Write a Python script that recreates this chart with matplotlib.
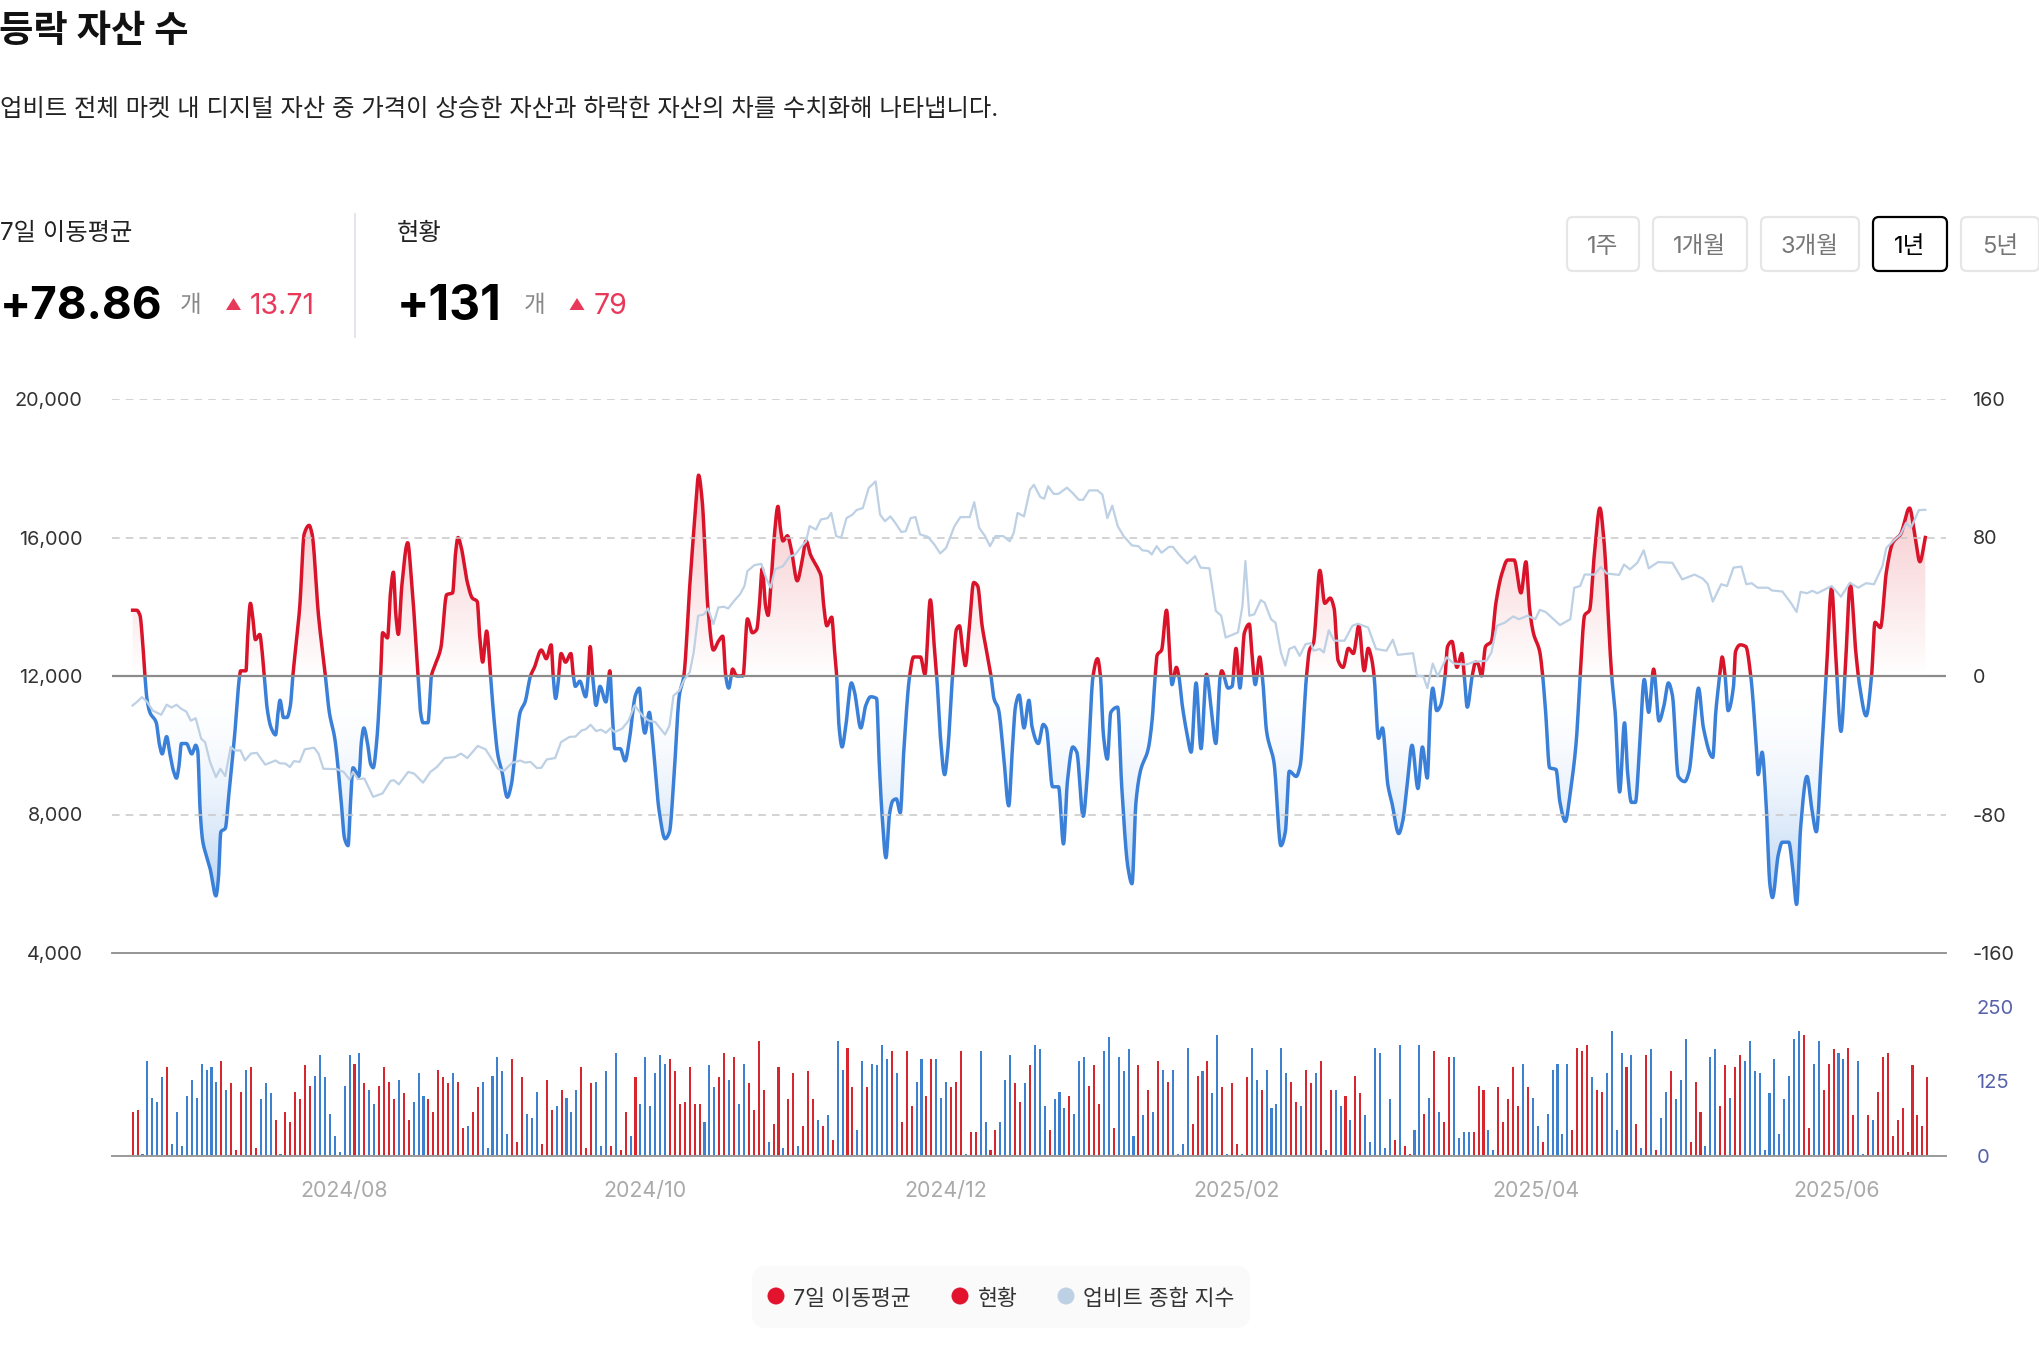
import numpy as np
import matplotlib
matplotlib.use("Agg")
import matplotlib.pyplot as plt
from matplotlib.patches import FancyBboxPatch, Rectangle, Circle, Polygon

plt.rcParams['font.family'] = ['Inter', 'Noto Sans CJK KR', 'DejaVu Sans']

# 7-day moving average, right axis (day index since the first date, count)
ma_days = [0,0.8,1.5,2,2.5,2.9,3.5,4.8,5.4,6,6.9,7.5,8.3,8.9,9.4,9.9,10.9,12,12.8,13.2,13.7,14.2,15.1,15.7,16.9,17.4,17.9,18.8,19.5,20.7,
    21.7,21.9,23,23.3,23.9,24.4,24.9,25.8,26.2,26.7,27.3,28.1,29,29.5,29.9,30.6,31.3,32,32.5,33.9,34.8,35.8,36.4,37.7,39.1,39.9,41,42.2,43,43.7,
    44.2,44.7,45.9,46.4,46.9,47.7,48.3,48.8,49.5,50.3,50.7,51.7,52.3,52.9,53.4,53.9,54.6,55.8,56.5,57.9,58.4,58.9,59.9,60.6,61.3,62.5,63.7,64.9,65.5,66,
    66.6,67.9,68.9,69.9,70.4,71,71.8,72.6,73.3,74.1,74.9,76,76.8,77.6,78.6,79.6,80.7,81.5,82.9,83.9,84.9,85.3,85.8,86.3,86.9,87.8,88.9,89.4,89.8,90.7,
    91.9,92.4,92.8,93.3,94,94.8,96,96.8,97.2,97.8,98.9,99.9,100.7,102,102.8,103.3,103.9,104.8,105.5,106.8,108,108.9,109.7,110.9,111.8,113,114.1,114.8,115.5,116.7,
    117.8,118.8,119.7,120.3,120.9,121.7,122.5,123.8,124.7,125.7,126.6,127.1,127.7,128.4,128.9,129.4,130.1,130.9,131.4,131.9,132.8,133.6,134.8,135.7,136.6,137.5,139,139.6,140.2,140.8,
    141.8,142.3,142.8,143.3,143.9,144.6,145.8,146.4,147.7,148.7,149.7,150.9,151.4,152,152.8,153.5,154.2,154.9,155.7,156.4,157.6,158.4,159.8,160.7,161.8,162.6,163.1,163.8,164.7,165.3,
    166.3,167.1,167.7,168.4,168.9,169.6,170.6,171.4,172.3,173.1,174.1,174.7,175.6,176.6,177.7,178.4,179.1,179.8,180.8,181.8,182.4,183.7,184.7,185.3,186.6,187.8,188.8,189.6,190.7,191.5,
    192.8,193.6,194.8,195.7,196.3,196.9,197.7,198.4,199.8,200.6,201.9,202.7,203.5,204.4,206,206.8,207.4,207.8,208.7,209.7,210.6,210.8,211.7,212.2,212.9,213.9,214.7,215.7,216.7,217.8,
    218.7,219.7,220.6,220.9,222.2,223,223.8,224.6,225.5,226.5,227,227.7,228.6,229.2,230,231.5,232.9,233.8,234.6,236,236.8,238.1,238.7,239.5,240.8,241.8,242.9,243.7,244.5,245.5,
    246.6,247.6,248.7,249.8,250.6,251.3,251.8,252.7,253.5,254.6,255.4,256.8,257.6,258.5,259.5,260.7,261.6,262.6,263.2,263.7,264.5,265.3,266.2,266.7,267.6,268.6,269.6,270.1,270.7,271.7,
    272.4,272.9,273.6,274.4,275.6,276.5,277.7,278.9,280.2,281.6,282.6,283.3,284.1,285.4,286,286.6,287.4,288.7,289.5,290.6,291.6,292.8,293.6,294.5,295.5,296.5,297.6,298.4,300,300.7,
    301.6,302.6,303.2,304,304.8,305.6,306.6,307.5,308.5,309.6,310.6,311.5,312.3,313.5,314.8,315.7,316.8,317.6,318.6,320.5,321.1,321.9,322.4,323,323.6,324.7,325.1,326.1,327.2,328.2,
    329.4,329.7,330.5,331.3,332.1,332.6,333.8,334.6,335.9,336.7,337.5,338.3,339.6,340.6,341.5,342.5,343.5,344.6,345.4,346.5,347.3,348.4,349.5,350.3,351.6,352.7,353.4,354.5,355.7,357,
    358.6,360.4,361.5,362.5,363.6]
ma_values = [38,38,35,21,0,-13,-21,-27,-39,-45,-35,-44,-55,-59,-52,-39,-39,-45,-40,-43,-78,-95,-105,-111,-127,-117,-90,-88,-69,-34,
    0,3,3,21,42,33,21,24,16,0,-19,-30,-34,-21,-14,-24,-24,-17,0,40,82,87,82,35,0,-21,-36,-69,-94,-98,
    -73,-53,-58,-38,-30,-40,-51,-53,-38,0,25,22,48,60,35,24,52,77,58,0,-21,-27,-27,0,6,16,47,48,71,80,
    75,54,45,43,23,8,26,0,-25,-46,-55,-70,-63,-44,-21,-15,0,5,15,10,18,0,-13,-4,13,8,13,0,-6,-3,
    -12,0,17,0,-17,-6,-15,3,-17,-42,-42,-49,-38,-11,-7,-23,-33,-21,-38,-78,-94,-90,-63,-11,0,52,94,116,102,39,
    15,20,23,0,-7,4,0,0,33,25,27,40,62,40,35,50,79,98,85,78,81,73,55,65,78,70,62,58,40,29,
    34,17,0,-30,-41,-30,-4,-9,-30,-17,-12,-13,-48,-80,-105,-80,-72,-71,-79,-44,0,11,11,1,44,17,0,-34,-57,-44,
    0,27,29,14,6,25,54,52,29,16,0,-13,-19,-44,-75,-44,-17,-11,-30,-14,-29,-39,-28,-30,-64,-64,-97,-61,-41,-44,
    -81,-59,0,10,0,-34,-48,-21,-18,-63,-111,-120,-73,-55,-42,-25,0,12,15,38,0,-5,5,0,-17,-34,-44,-4,-42,1,
    -17,-39,0,3,-7,-6,16,-7,25,30,14,-5,11,-2,-32,-50,-98,-90,-55,-58,-52,0,15,19,61,42,45,39,9,5,
    16,13,29,3,16,10,0,-36,-30,-63,-73,-91,-84,-63,-40,-65,-41,-59,-19,-7,-20,-17,0,17,20,5,13,0,-18,0,
    8,7,0,17,20,42,59,67,67,48,66,40,25,14,0,-21,-53,-54,-73,-84,-67,-38,0,35,38,71,97,79,0,-21,
    -67,-27,-55,-73,-73,-44,-2,-21,4,-26,-17,-4,-11,-58,-61,-55,-25,-7,-30,-47,-21,0,11,0,-20,-6,14,18,17,0,
    -44,-57,-44,-73,-121,-128,-103,-96,-96,-111,-132,-88,-58,-77,-90,-48,0,51,14,-32,0,53,14,-6,-23,0,31,28,60,77,
    82,97,81,66,80]

# Upbit composite index, left axis
index_days = [0,.8,1.9,2.9,4.1,5.8,6.9,7.9,8.9,9.9,10.9,11.8,12.8,13.9,14.7,15.7,16.9,17.8,18.8,19.9,20.7,21.9,22.8,24,25.2,26.9,29,29.8,31,31.9,
    32.7,33.9,34.9,36.8,37.7,38.7,41.4,42.8,44,44.7,45.7,47,48.8,50.7,52.3,53,54,55.9,57.1,58.9,60.4,61.7,63.3,65.4,66.6,67.9,70,71.6,72.8,74.1,
    75.3,77,78.6,79.6,80.7,82,82.9,84,85.7,86.9,88.6,89.8,91.1,91.9,92.9,94,95,96,96.9,97.8,99.3,100.6,101.8,103.5,104.7,106,108,108.9,109.7,110.9,
    111.8,113,113.8,114.7,115.9,116.7,117.8,118.8,119.9,120.8,122,123.2,124.1,124.7,126.1,127.5,128.6,129.4,130.3,131.9,133.2,134.4,135.7,136.6,137.3,138.6,139.6,141,141.7,142.7,
    143.7,144.8,146,146.8,148.1,149.3,150.7,151.6,152.6,153.7,154.7,155.9,156.8,157.8,158.8,159.7,161.3,162.6,163.8,165,166.7,167.9,169.8,170.7,171.7,172.9,173.9,175,176.6,177.9,
    178.7,179.5,180.8,182,182.8,184.1,184.9,185.7,186.8,187.8,189.5,190.7,191.9,192.8,194,195.7,196.7,197.7,198.7,199.8,201,202.7,204,204.8,206,206.7,207.7,208.7,210.2,211,
    212.2,213.9,215.5,216.6,218.4,219.7,220.8,221.7,224.2,225.1,225.7,226.5,227.5,228.8,229.6,230.9,231.8,232.9,233.8,234.6,235.7,236.7,237.9,239,239.5,240.8,241.6,242.6,243.7,245.8,
    247.4,248.5,250.6,252.2,254.3,255.6,256.6,259.7,260.5,261.8,262.6,263.7,264.7,266.5,268,270.5,272.1,274.6,275.6,276.7,278.3,280,281.2,282.9,284.5,285.4,286.6,289.5,291.6,292.4,
    293.6,294.5,296.5,297.8,299,301.5,302.5,303.7,305.2,306.5,307.5,309.4,312.3,314.3,316.8,318.5,319.5,320.5,322.2,323.4,324.7,326.3,327.3,328.4,329.6,331.7,332.5,334.6,336.3,337.5,
    338.3,339.6,340.7,341.7,344.6,346.5,348.3,350,351.6,353.2,354.9,355.7,357.4,358.6,359.7,360.7,362.3,363.6]
index_values = [11150,11240,11390,11260,11000,10880,11170,11090,11170,11050,10970,10710,10780,10190,10090,9520,9080,9320,9110,9950,9850,9850,9560,9760,9780,9440,9560,9480,9470,9370,
    9540,9520,9880,9930,9760,9320,9310,9230,9010,9230,9020,9040,8510,8610,8970,8990,8870,9230,9180,8920,9230,9370,9630,9660,9760,9630,9980,9880,9610,9320,
    9260,9490,9560,9500,9520,9340,9350,9590,9630,10090,10240,10250,10430,10460,10590,10410,10450,10360,10490,10380,10480,10710,11150,10840,10710,10670,10310,10570,11430,11580,
    11870,12110,12680,13740,13780,13950,13500,13980,14000,13950,14170,14360,14600,15030,15200,15240,14790,14550,15080,15170,15440,15510,15750,15890,16330,16230,16520,16560,16710,16040,
    15990,16560,16660,16790,16850,17430,17620,16660,16470,16610,16420,16160,16180,16560,16590,16090,16020,15800,15540,15700,16330,16590,16590,17020,16280,16040,15750,16040,16040,15890,
    16130,16710,16610,17380,17520,17170,17120,17480,17260,17260,17440,17280,17090,17090,17360,17360,17240,16560,16920,16330,16040,15770,15750,15630,15610,15510,15750,15560,15730,15730,
    15510,15250,15460,15130,15110,13880,13740,13110,13260,14020,15320,13740,13780,14190,14120,13640,13540,12680,12300,12780,12850,12580,12920,12950,12730,12780,12680,13320,13020,13020,
    13450,13510,13400,12780,12730,13050,12610,12660,12010,11990,11650,12360,11990,12540,12360,12330,12410,12440,12680,13450,13540,13720,13640,13740,13640,13910,13850,13470,13640,14550,
    14600,14930,14930,15150,14960,14920,15220,15080,15270,15630,15110,15290,15270,14790,14930,14810,14650,14150,14650,14600,15130,15160,14650,14680,14550,14550,14470,14440,14120,13850,
    14430,14390,14460,14390,14600,14290,14690,14550,14680,14650,15170,15700,15940,16090,16420,16280,16790,16800]

# daily net count, bars show the size and the sign gives the colour
net_counts = [74,78,-3,-159,-98,-91,-132,149,-20,-74,
    -17,-101,-128,-98,-155,-145,-149,-125,159,-111,
    122,10,108,-145,149,14,-95,-122,-105,61,
    -3,74,57,108,95,152,118,-135,-169,-132,
    -71,-34,-7,-118,-169,155,-172,122,-111,-88,
    118,149,125,95,-128,105,61,-91,-139,-101,
    95,74,145,132,122,-139,125,47,-51,74,
    115,-125,-14,-135,-166,-142,-37,162,24,132,
    -71,-64,-108,20,128,78,-84,111,-98,-74,
    -111,149,14,122,-125,-17,-142,17,-172,10,
    74,-34,132,-88,-166,-84,-139,-169,-155,162,
    142,88,91,149,88,88,-57,-152,-115,132,
    172,-128,166,-88,
    -155,122,78,193,111,-24,54,149,-14,95,
    139,-17,51,142,95,-61,51,-68,27,-193,
    -145,182,115,-44,-159,115,-155,-152,-186,-162,
    176,-139,57,176,84,-125,-162,101,162,-162,
    -98,-125,115,125,176,-3,41,41,-176,-57,
    10,44,-57,-128,-169,122,91,-122,152,-186,
    -179,-84,44,-95,-108,-81,101,-71,-159,-166,
    118,152,88,-176,-199,47,-166,-142,-179,-34,
    152,-68,111,-74,159,-145,125,-145,-3,-20,
    -182,54,135,-142,159,-105,-203,115,-3,122,
    20,-3,132,-182,-128,111,-145,-81,-88,-182,
    -139,125,91,-84,145,122,-139,159,-10,111,
    -111,-84,101,-61,135,
    105,-68,-24,-182,-172,-14,-95,27,-186,17,
    3,-44,-186,71,-98,176,-74,57,166,-166,
    -30,-41,-41,41,118,111,-44,-10,115,57,
    95,149,84,-155,115,-98,-51,24,-71,-145,
    -155,-37,-155,44,182,176,186,-132,111,108,
    -139,-209,-44,-172,149,-169,54,-14,169,-179,
    10,-64,-108,142,-95,-128,-196,24,125,74,
    -17,-166,-179,84,152,-98,149,169,-159,-193,
    -142,-139,-10,-105,-162,-37,-95,-135,-196,-209,
    203,47,-155,-193,111,155,179,-172,-162,182,
    68,-159,-3,68,-61,108,166,172,34,61,
    81,7,152,68,51,132]

date_ticks = [43, 104, 165, 224, 284.6, 345.6]
date_labels = ['2024/08', '2024/10', '2024/12', '2025/02', '2025/04', '2025/06']
left_ticks = [4000, 8000, 12000, 16000, 20000]
right_ticks = [-160, -80, 0, 80, 160]
bar_ticks = [0, 125, 250]
range_labels = ['1주', '1개월', '3개월', '1년', '5년']

RED = '#d9142a'
BLUE = '#3a80d8'
BAR_RED = '#d8262e'
BAR_BLUE = '#3d80d0'
INDEX_COLOR = '#bdd0e4'
W, H = 2040, 1358
XLIM = (-4.18, 367.8)


def pchip(x, y, xs):
    # monotone cubic, keeps the line from overshooting between the read points
    x = np.asarray(x, float)
    y = np.asarray(y, float)
    h = np.diff(x)
    d = np.diff(y) / h
    m = np.zeros_like(y)
    for i in range(1, len(x) - 1):
        if d[i - 1] * d[i] > 0:
            w1 = 2 * h[i] + h[i - 1]
            w2 = h[i] + 2 * h[i - 1]
            m[i] = (w1 + w2) / (w1 / d[i - 1] + w2 / d[i])
    m[0], m[-1] = d[0], d[-1]
    k = np.clip(np.searchsorted(x, xs) - 1, 0, len(h) - 1)
    t = (xs - x[k]) / h[k]
    return ((2*t**3 - 3*t**2 + 1) * y[k] + (t**3 - 2*t**2 + t) * h[k] * m[k]
            + (-2*t**3 + 3*t**2) * y[k+1] + (t**3 - t**2) * h[k] * m[k+1])


def px_axes(x0, y0, x1, y1):
    return fig.add_axes([x0 / W, 1 - y1 / H, (x1 - x0) / W, (y1 - y0) / H])


fig = plt.figure(figsize=(W / 100, H / 100), dpi=100, facecolor='white')

# page furniture in pixel coordinates
page = fig.add_axes([0, 0, 1, 1])
page.set_xlim(0, W)
page.set_ylim(H, 0)
page.axis('off')

page.text(-1, 32, '등락 자산 수', fontsize=26.9, fontweight='bold', color='#111111', va='center')
page.text(0, 110, '업비트 전체 마켓 내 디지털 자산 중 가격이 상승한 자산과 하락한 자산의 차를 수치화해 나타냅니다.',
          fontsize=17.5, color='#222222', va='center')
page.text(0, 234, '7일 이동평균', fontsize=17.5, color='#222222', va='center')
page.text(397, 234, '현황', fontsize=17.5, color='#222222', va='center')
page.plot([355, 355], [214, 337], color='#e3e5ea', lw=1.4)

for x, big, size, unit_x, tri_x, delta_x, delta in [(0, '+78.86', 33, 180, 233.5, 250, '13.71'),
                                                    (397, '+131', 34.5, 524, 577, 594, '79')]:
    page.text(x, 307, big, fontsize=size, fontweight='bold', color='black', va='center')
    page.text(unit_x, 306, '개', fontsize=17, color='#888888', va='center')
    page.add_patch(Polygon([(tri_x - 7.5, 310), (tri_x + 7.5, 310), (tri_x, 298)], color='#e8395a', lw=0))
    page.text(delta_x, 306, delta, fontsize=20.5, color='#e8395a', va='center')

button_x = [(1567, 1639), (1653, 1747), (1761, 1859), (1873, 1947), (1961, 2039)]
for (x0, x1), label in zip(button_x, range_labels):
    on = label == '1년'
    page.add_patch(FancyBboxPatch((x0, 217), x1 - x0, 54, boxstyle='round,pad=0,rounding_size=6',
                                  fc='white', ec='black' if on else '#e6e6e6', lw=1.6))
    page.text((x0 + x1) / 2, 247, label, fontsize=17, color='black' if on else '#777777', ha='center', va='center')

# legend
page.add_patch(FancyBboxPatch((752, 1266), 498, 62, boxstyle='round,pad=0,rounding_size=14', fc='#fafafa', ec='none'))
for cx, tx, c, label in [(776, 793, '#e2142d', '7일 이동평균'), (960, 978, '#e2142d', '현황'), (1066, 1083, INDEX_COLOR, '업비트 종합 지수')]:
    page.add_patch(Circle((cx, 1296), 8.5, fc=c, ec='none'))
    page.text(tx, 1299, label, fontsize=15.6, color='#333333', va='center')

# main panel: the right-axis series sits below the index line, so this axes is on top
ax = px_axes(112, 399, 1946, 953)
ax.patch.set_alpha(0)
ax.set_xlim(*XLIM)
ax.set_ylim(4000, 20000)
ax.set_yticks(left_ticks)
ax.set_yticklabels([f'{v:,}' for v in left_ticks], fontsize=14.3, color='#333333')
ax.tick_params(axis='y', length=0, pad=21)
ax.set_xticks([])
for s in ax.spines.values():
    s.set_visible(False)

ax2 = ax.twinx()
ax.set_zorder(ax2.get_zorder() + 1)
ax2.patch.set_alpha(0)
ax2.set_xlim(*XLIM)
ax2.set_ylim(-160, 160)
ax2.set_yticks(right_ticks)
ax2.set_yticklabels([str(v) for v in right_ticks], fontsize=14.3, color='#333333')
ax2.tick_params(axis='y', length=0, pad=19)
for s in ax2.spines.values():
    s.set_visible(False)

for v in [8000, 16000, 20000]:
    ax.axhline(v, color='#c8c8c8', lw=1.1, dashes=(5, 4), zorder=1)
ax.axhline(4000, color='#8c8c8c', lw=1.3, zorder=1, clip_on=False)
ax.axhline(12000, color='#8c8c8c', lw=1.6, zorder=1)
ax.plot(index_days, index_values, color=INDEX_COLOR, lw=1.6, zorder=2)

xs = np.linspace(ma_days[0], ma_days[-1], 6000)
ys = pchip(ma_days, ma_values, xs)

# gradient under the line, stronger further from zero
grad = np.linspace(0, 160, 320)
up = np.zeros((320, 1, 4))
up[..., :3] = matplotlib.colors.to_rgb('#e0303f')
up[:, 0, 3] = np.clip(0.2 * grad / 80, 0, 1)
im = ax2.imshow(up, extent=(XLIM[0], XLIM[1], 0, 160), origin='lower', aspect='auto', zorder=2)
fill = ax2.fill_between(xs, np.maximum(ys, 0), 0, color='none')
im.set_clip_path(fill.get_paths()[0], transform=ax2.transData)

down = np.zeros((320, 1, 4))
down[..., :3] = matplotlib.colors.to_rgb('#3a86e0')
down[:, 0, 3] = np.clip(0.38 * (grad / 130) ** 2, 0, 1)
im = ax2.imshow(down, extent=(XLIM[0], XLIM[1], -160, 0), origin='upper', aspect='auto', zorder=2)
fill = ax2.fill_between(xs, np.minimum(ys, 0), 0, color='none')
im.set_clip_path(fill.get_paths()[0], transform=ax2.transData)
ax2.set_xlim(*XLIM)
ax2.set_ylim(-160, 160)

for color, y0 in [(RED, 0), (BLUE, -160)]:
    line, = ax2.plot(xs, ys, color=color, lw=2.5, zorder=3, solid_joinstyle='round')
    line.set_clip_path(Rectangle((XLIM[0], y0), XLIM[1] - XLIM[0], 160, transform=ax2.transData))

# bar panel
bx = px_axes(112, 1007, 1946, 1156)
bx.patch.set_alpha(0)
bx.set_xlim(*XLIM)
bx.set_ylim(0, 250)
days = np.arange(len(net_counts))
heights = np.abs(net_counts)
colors = [BAR_RED if v > 0 else BAR_BLUE for v in net_counts]
bx.bar(days, heights, width=0.42, color=colors, lw=0)
bx.yaxis.tick_right()
bx.set_yticks(bar_ticks)
bx.set_yticklabels([str(v) for v in bar_ticks], fontsize=14.5, color='#5561ab')
bx.tick_params(axis='y', length=0, pad=22)
bx.set_xticks(date_ticks)
bx.set_xticklabels(date_labels, fontsize=15.4, color='#aaaaaa')
bx.tick_params(axis='x', length=0, pad=18)
for name, s in bx.spines.items():
    s.set_visible(name == 'bottom')
bx.spines['bottom'].set_color('#9a9a9a')
bx.spines['bottom'].set_linewidth(1.4)

fig.savefig('out.png', dpi=100)
